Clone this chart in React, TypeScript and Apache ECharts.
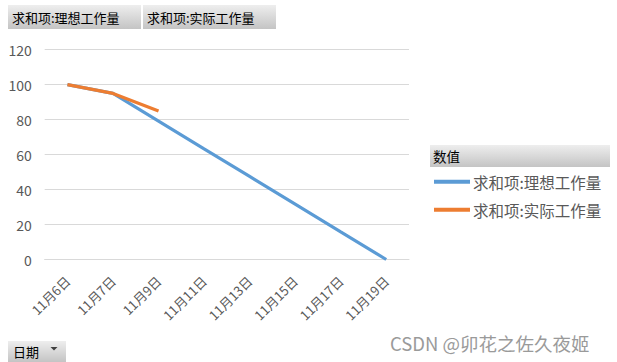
import React, { useEffect, useRef } from "react";
import * as echarts from "echarts";

const categories = ["11月6日", "11月7日", "11月9日", "11月11日", "11月13日", "11月15日", "11月17日", "11月19日"];
const idealWork = [100, 95, 79.2, 63.3, 47.5, 31.7, 15.8, 0];
const actualWork: (number | null)[] = [100, 95, 85, null, null, null, null, null];
const seriesNames = ["求和项:理想工作量", "求和项:实际工作量"];
const legendTitle = "数值";
const axisFieldName = "日期";
const watermark = "CSDN @卯花之佐久夜姬";

const FONT = "'Noto Sans CJK SC', 'Noto Sans', sans-serif";

const btnGrad = () =>
  new echarts.graphic.LinearGradient(0, 0, 0, 1, [
    { offset: 0, color: "#eeeeee" },
    { offset: 1, color: "#c4c4c4" },
  ]);

export default function App() {
  const ref = useRef<HTMLDivElement>(null);
  useEffect(() => {
    document.body.style.margin = "0";
    const chart = echarts.init(ref.current!, null, { renderer: "svg" });
    chart.setOption({
      animation: false,
      backgroundColor: "#ffffff",
      textStyle: { fontFamily: FONT },
      grid: { left: 44.7, right: 208, top: 49.7, bottom: 102.5, containLabel: false },
      xAxis: {
        type: "category",
        data: categories,
        boundaryGap: true,
        axisLine: { lineStyle: { color: "#d9d9d9", width: 1 } },
        axisTick: { show: false },
        axisLabel: {
          rotate: 45,
          interval: 0,
          color: "#595959",
          fontSize: 13,
          margin: 19,
          fontFamily: FONT,
        },
      },
      yAxis: {
        type: "value",
        min: 0,
        max: 120,
        interval: 20,
        axisLine: { show: false },
        axisTick: { show: false },
        splitLine: { lineStyle: { color: "#d9d9d9", width: 1 } },
        axisLabel: { color: "#595959", fontSize: 14, margin: 13, fontFamily: FONT },
      },
      legend: {
        orient: "vertical",
        left: 434,
        top: 174,
        padding: 0,
        itemWidth: 36,
        itemHeight: 4,
        itemGap: 12.5,
        icon: "rect",
        textStyle: { color: "#595959", fontSize: 15.5, fontFamily: FONT, padding: [0, 0, 0, -2] },
        data: seriesNames,
      },
      series: [
        {
          name: seriesNames[0],
          type: "line",
          data: idealWork,
          symbol: "none",
          lineStyle: { color: "#5B9BD5", width: 3.2 },
          itemStyle: { color: "#5B9BD5" },
        },
        {
          name: seriesNames[1],
          type: "line",
          data: actualWork,
          symbol: "none",
          lineStyle: { color: "#ED7D31", width: 3.2 },
          itemStyle: { color: "#ED7D31" },
        },
      ],
      graphic: [
        // top field buttons
        { type: "rect", shape: { x: 8, y: 5, width: 133, height: 24 }, style: { fill: btnGrad() } },
        { type: "text", x: 12, y: 17, style: { text: seriesNames[0], fill: "#000000", font: `13px ${FONT}`, textVerticalAlign: "middle" } },
        { type: "rect", shape: { x: 143, y: 5, width: 133, height: 24 }, style: { fill: btnGrad() } },
        { type: "text", x: 147, y: 17, style: { text: seriesNames[1], fill: "#000000", font: `13px ${FONT}`, textVerticalAlign: "middle" } },
        // legend header
        { type: "rect", shape: { x: 430, y: 145, width: 180, height: 22 }, style: { fill: btnGrad() } },
        { type: "text", x: 433, y: 156, style: { text: legendTitle, fill: "#000000", font: `13.5px ${FONT}`, textVerticalAlign: "middle" } },
        // bottom axis field button
        { type: "rect", shape: { x: 8, y: 341, width: 58, height: 21 }, style: { fill: btnGrad() } },
        { type: "text", x: 13, y: 351, style: { text: axisFieldName, fill: "#000000", font: `13px ${FONT}`, textVerticalAlign: "middle" } },
        { type: "polygon", shape: { points: [[50.5, 347], [57.5, 347], [54, 350.5]] }, style: { fill: "#404040" } },
        // watermark
        { type: "text", x: 390, y: 343, style: { text: watermark, fill: "#9a9a9a", font: `18.5px ${FONT}`, textVerticalAlign: "middle" } },
      ],
    });
    return () => chart.dispose();
  }, []);
  return <div ref={ref} style={{ width: 617, height: 362 }} />;
}
